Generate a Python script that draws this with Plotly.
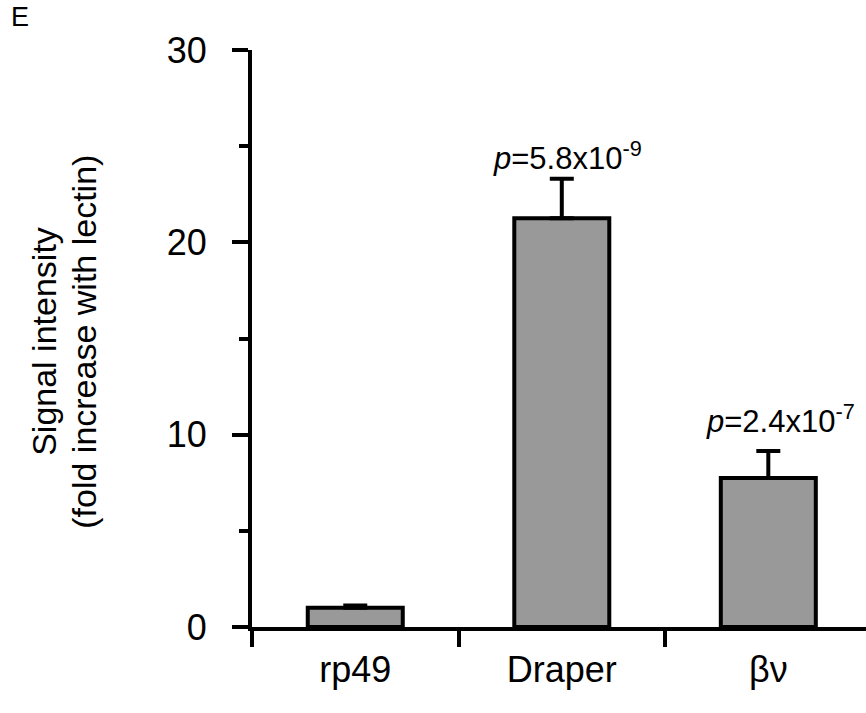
import plotly.graph_objects as go

categories = ["rp49", "Draper", "βν"]
values = [1.0, 21.25, 7.75]
errors_up = [0.12, 2.05, 1.4]
errors_down = [0, 0, 0]
p_labels = ["", "<i>p</i>=5.8x10<sup>-9</sup>", "<i>p</i>=2.4x10<sup>-7</sup>"]
y_ticks = [0, 10, 20, 30]
title_lines = ["Signal intensity", "(fold increase with lectin)"]

FONT = "Liberation Sans, Arial, sans-serif"

fig = go.Figure()
fig.add_trace(go.Bar(
    x=categories, y=values, width=0.46,
    marker=dict(color="#999999", line=dict(color="black", width=4)),
    error_y=dict(type="data", array=errors_up, arrayminus=errors_down,
                 symmetric=False, thickness=4, width=12, color="black"),
))

# p-value annotations
p_pos = [(1.03, 24.5), (2.06, 10.8)]
for lbl, (px, py) in zip(p_labels[1:], p_pos):
    fig.add_annotation(x=px, y=py, xref="x", yref="y", text=lbl, showarrow=False,
                       font=dict(family=FONT, size=31, color="black"),
                       xanchor="center", yanchor="middle")

# panel letter
fig.add_annotation(x=-0.395, y=1.087, xref="paper", yref="paper", text="E",
                   showarrow=False, xanchor="left", yanchor="top",
                   font=dict(family=FONT, size=27, color="black"))

# y axis title (two lines)
for line, px in zip(title_lines, [-0.338, -0.273]):
    fig.add_annotation(x=px, y=0.495, xref="paper", yref="paper",
                       text=line, textangle=-90, showarrow=False,
                       xanchor="center", yanchor="middle",
                       font=dict(family=FONT, size=34, color="black"))

fig.update_layout(
    width=866, height=713,
    margin=dict(l=252, r=0, t=50, b=86),
    plot_bgcolor="white", paper_bgcolor="white",
    showlegend=False,
    font=dict(family=FONT, color="black"),
    xaxis=dict(type="category", categoryorder="array", categoryarray=categories,
               range=[-0.5, 2.473], tickson="boundaries",
               showline=True, linecolor="black", linewidth=4,
               ticks="outside", ticklen=16, tickwidth=4, tickcolor="black",
               tickfont=dict(family=FONT, size=36, color="black"),
               ticklabelstandoff=8, showgrid=False, zeroline=False),
    yaxis=dict(range=[0, 30], tickvals=y_ticks,
               showline=True, linecolor="black", linewidth=4,
               ticks="outside", ticklen=16, tickwidth=4, tickcolor="black",
               tickfont=dict(family=FONT, size=36, color="black"),
               ticklabelstandoff=18,
               minor=dict(dtick=5, ticks="outside", ticklen=9, tickwidth=4, tickcolor="black"),
               showgrid=False, zeroline=False),
)

fig.write_html("out.html", config={"displayModeBar": False},
               post_script="document.body.style.margin='0';document.body.style.padding='0';")
